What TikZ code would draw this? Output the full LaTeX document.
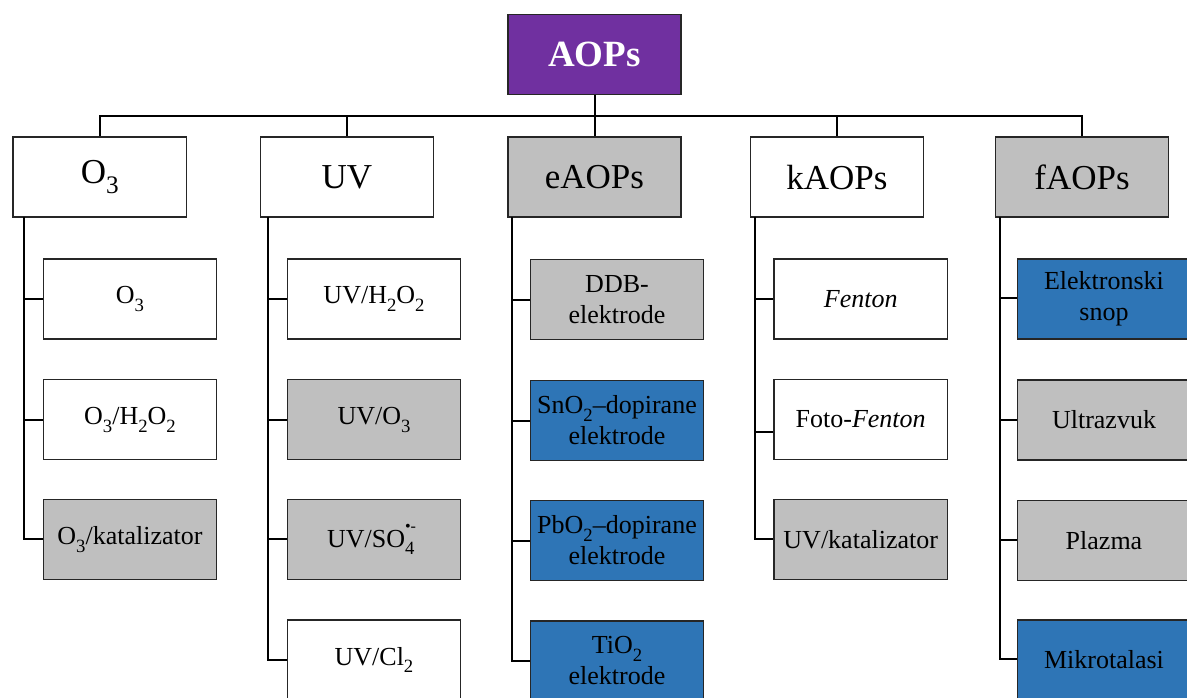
\documentclass[tikz,border=0pt]{standalone}
\usepackage{fontspec}
\setmainfont{Liberation Serif}
\definecolor{aopPurple}{HTML}{7030A0}
\definecolor{aopGray}{HTML}{BFBFBF}
\definecolor{aopBlue}{HTML}{2E75B6}
% chemical subscripts set low, as in the printed formulas
\newcommand{\lo}[1]{\raisebox{-0.3em}{\scalebox{0.72}{#1}}}
% radical anion: bullet and charge over a subscript
\newcommand{\radlo}[2]{\rlap{\raisebox{0.62em}{\scalebox{0.62}{#1}}}\lo{#2}\hspace{0.25em}}
\tikzset{
  box/.style={draw=black!85, line width=1.5pt, inner sep=0pt, align=center,
    minimum width=173.4pt, minimum height=80pt, fill=white},
  topbox/.style={box, fill=aopPurple, text=white, font=\fontsize{37}{40}\selectfont\bfseries},
  catbox/.style={box, font=\fontsize{35}{40}\selectfont},
  leafbox/.style={box, font=\fontsize{26}{31}\selectfont},
  gray/.style={fill=aopGray},
  blue/.style={fill=aopBlue},
  link/.style={draw=black, line width=2pt, line join=miter}
}
\begin{document}
\begin{tikzpicture}[x=1pt,y=1pt]
\useasboundingbox (0,0) rectangle (1187,-698);
\clip (0,0) rectangle (1187,-698);

% root
\node[topbox] (top) at (594.5,-54.3) {AOPs};

% categories
\node[catbox]       (o3) at (99.8,-177.2) {O\lo{3}};
\node[catbox]       (uv) at (347,-177.2) {UV};
\node[catbox, gray] (ea) at (594.5,-177.2) {eAOPs};
\node[catbox]       (ka) at (837,-177.2) {kAOPs};
\node[catbox, gray] (fa) at (1082,-177.2) {fAOPs};

% O3 column
\node[leafbox]       (o31) at (130,-299) {O\lo{3}};
\node[leafbox]       (o32) at (130,-419.6) {O\lo{3}/H\lo{2}O\lo{2}};
\node[leafbox, gray] (o33) at (130,-539.4) {O\lo{3}/katalizator};

% UV column
\node[leafbox]       (uv1) at (374,-299) {UV/H\lo{2}O\lo{2}};
\node[leafbox, gray] (uv2) at (374,-419.6) {UV/O\lo{3}};
\node[leafbox, gray] (uv3) at (374,-539.4) {UV/SO\radlo{•-}{4}};
\node[leafbox]       (uv4) at (374,-660) {UV/Cl\lo{2}};

% eAOPs column
\node[leafbox, gray] (ea1) at (617,-299.5) {DDB-\\elektrode};
\node[leafbox, blue] (ea2) at (617,-420.5) {SnO\lo{2}–dopirane\\elektrode};
\node[leafbox, blue] (ea3) at (617,-540.5) {PbO\lo{2}–dopirane\\elektrode};
\node[leafbox, blue] (ea4) at (617,-661) {TiO\lo{2}\\elektrode};

% kAOPs column
\node[leafbox]       (ka1) at (860.7,-299) {\textit{Fenton}};
\node[leafbox]       (ka2) at (860.7,-419.6) {Foto-\textit{Fenton}};
\node[leafbox, gray] (ka3) at (860.7,-539.4) {UV/katalizator};

% fAOPs column
\node[leafbox, blue] (fa1) at (1104,-299) {Elektronski\\snop};
\node[leafbox, gray] (fa2) at (1104,-419.8) {Ultrazvuk};
\node[leafbox, gray] (fa3) at (1104,-540.3) {Plazma};
\node[leafbox, blue] (fa4) at (1104,-660) {Mikrotalasi};

% bus from the root to the categories
\draw[link] (o3.north) |- (top.south |- 0,-116) -| (fa.north);
\draw[link] (top.south) -- (top.south |- 0,-116);
\draw[link] (uv.north) -- (uv.north |- 0,-116);
\draw[link] (ea.north) -- (ea.north |- 0,-116);
\draw[link] (ka.north) -- (ka.north |- 0,-116);

% spines and ticks
\coordinate (s1) at (24,-217.3);
\coordinate (s2) at (268.3,-217.3);
\coordinate (s3) at (512.3,-217.3);
\coordinate (s4) at (755.3,-217.3);
\coordinate (s5) at (999.7,-217.3);

\draw[link] (s1) |- (o33.west);
\draw[link] (o31.west) -- (o31.west -| s1);
\draw[link] (o32.west) -- (o32.west -| s1);

\draw[link] (s2) |- (uv4.west);
\draw[link] (uv1.west) -- (uv1.west -| s2);
\draw[link] (uv2.west) -- (uv2.west -| s2);
\draw[link] (uv3.west) -- (uv3.west -| s2);

\draw[link] (s3) |- (ea4.west);
\draw[link] (ea1.west) -- (ea1.west -| s3);
\draw[link] (ea2.west) -- (ea2.west -| s3);
\draw[link] (ea3.west) -- (ea3.west -| s3);

\draw[link] (s4) |- (ka3.west);
\draw[link] (ka1.west) -- (ka1.west -| s4);
\draw[link] ([yshift=-12pt]ka2.west) -- ([yshift=-12pt]ka2.west -| s4);

\draw[link] (s5) |- ([yshift=1.5pt]fa4.west);
\draw[link] ([yshift=1.5pt]fa1.west) -- ([yshift=1.5pt]fa1.west -| s5);
\draw[link] (fa2.west) -- (fa2.west -| s5);
\draw[link] (fa3.west) -- (fa3.west -| s5);
\end{tikzpicture}
\end{document}
